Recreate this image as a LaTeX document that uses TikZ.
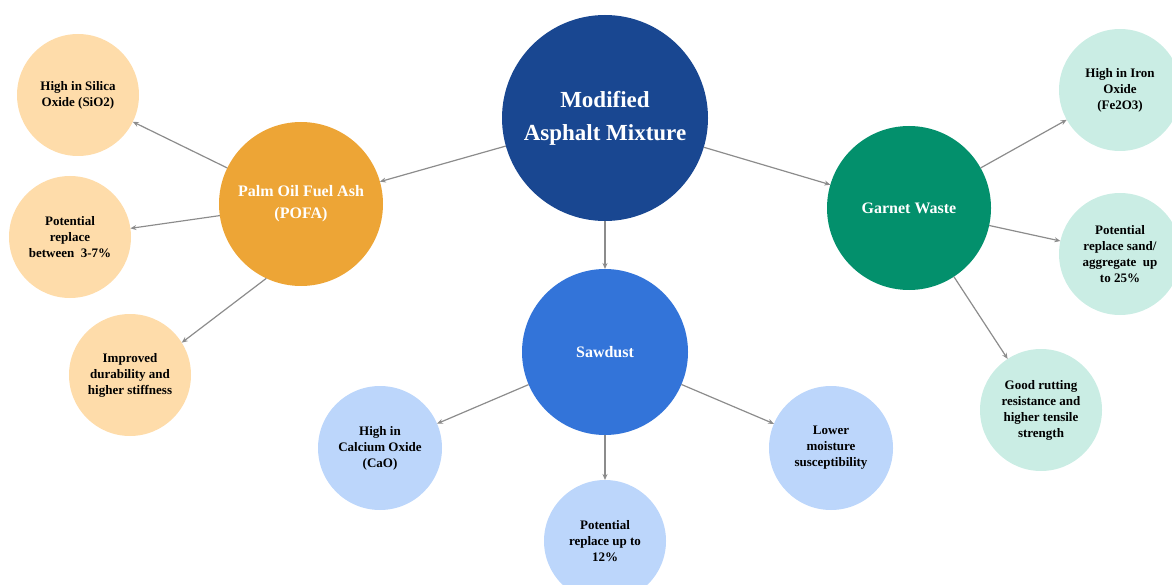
\documentclass[tikz,border=0pt]{standalone}
\usepackage{fontspec}
\setmainfont{Liberation Serif}
\usetikzlibrary{arrows.meta}
\definecolor{mainblue}{RGB}{25,71,145}
\definecolor{sawblue}{RGB}{51,116,217}
\definecolor{pofaor}{RGB}{237,165,54}
\definecolor{garnetgr}{RGB}{3,144,108}
\definecolor{lightor}{RGB}{254,220,170}
\definecolor{lightbl}{RGB}{188,214,251}
\definecolor{lightgr}{RGB}{202,237,228}
\definecolor{arrowgray}{RGB}{140,140,140}
\begin{document}
\begin{tikzpicture}[x=1pt,y=-1pt,
  bubble/.style={circle,inner sep=0pt,outer sep=0pt,align=center,font=\bfseries},
  hub/.style={bubble,minimum size=164pt,text=white,font=\fontsize{16}{22}\selectfont\bfseries},
  leaf/.style={bubble,minimum size=122pt,text=black,font=\fontsize{13}{16}\selectfont\bfseries},
  link/.style={draw=arrowgray,line width=1.2pt,-{Stealth[length=6pt,width=5pt]}}
]
\useasboundingbox (0,0) rectangle (1172,585);
% main
\node[bubble,minimum size=206pt,fill=mainblue,text=white,font=\fontsize{23}{33}\selectfont\bfseries] (main) at (605,118) {Modified\\Asphalt Mixture};
% hubs
\node[hub,fill=pofaor] (pofa) at (301,204) {Palm Oil Fuel Ash\\(POFA)};
\node[hub,fill=garnetgr] (garnet) at (909,208) {Garnet Waste};
\node[hub,fill=sawblue,minimum size=166pt] (saw) at (605,352) {Sawdust};
% POFA leaves
\node[leaf,fill=lightor] (silica) at (78,95) {High in Silica\\Oxide (SiO2)};
\node[leaf,fill=lightor] (pofarep) at (70,237) {Potential\\replace\\between\ \ 3-7\%};
\node[leaf,fill=lightor] (durab) at (130,375) {Improved\\durability and\\higher stiffness};
% Garnet leaves
\node[leaf,fill=lightgr] (iron) at (1120,90) {High in Iron\\Oxide\\(Fe2O3)};
\node[leaf,fill=lightgr] (sand) at (1120,254) {Potential\\replace sand/\\aggregate\ \ up\\to 25\%};
\node[leaf,fill=lightgr] (rut) at (1041,410) {Good rutting\\resistance and\\higher tensile\\strength};
% Sawdust leaves
\node[leaf,fill=lightbl,minimum size=124pt] (cao) at (380,448) {High in\\Calcium Oxide\\(CaO)};
\node[leaf,fill=lightbl,minimum size=124pt] (moist) at (831,448) {Lower\\moisture\\susceptibility};
\node[leaf,fill=lightbl] (sawrep) at (605,541) {Potential\\replace up to\\12\%};
% connectors
\draw[link] (main) -- (pofa);
\draw[link] (main) -- (garnet);
\draw[link] (main) -- (saw);
\draw[link] (pofa) -- (silica);
\draw[link] (pofa) -- (pofarep);
\draw[link] (pofa.245) -- (durab.32);
\draw[link] (garnet) -- (iron);
\draw[link] (garnet) -- (sand);
\draw[link] (garnet) -- (rut);
\draw[link] (saw) -- (cao);
\draw[link] (saw) -- (moist);
\draw[link] (saw) -- (sawrep);
\end{tikzpicture}
\end{document}
